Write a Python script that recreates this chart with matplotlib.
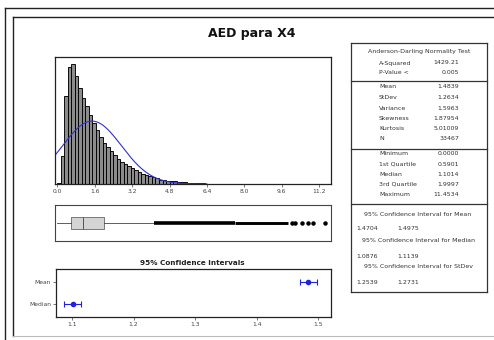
import numpy as np
import matplotlib
matplotlib.use('Agg')
import matplotlib.pyplot as plt
from matplotlib.lines import Line2D

# summary statistics (Minitab graphical summary)
n_obs = 33467
mean_val = 1.4839
stdev_val = 1.2634
q1, median_val, q3 = 0.5901, 1.1014, 1.9997
min_val, max_val = 0.0, 11.4534

# histogram: bins of width 0.15 starting at 0.0, counts
bin_width = 0.15
bin_counts = [25, 706, 2218, 2948, 3024, 2722, 2419, 2167, 1966, 1739, 1537, 1361,
              1184, 1033, 932, 832, 731, 630, 554, 504, 454, 403, 353, 302, 252,
              227, 202, 176, 139, 113, 101, 88, 76, 66, 58, 50, 43, 35, 28, 23,
              18, 13, 10, 8, 6, 5, 4, 3]
hist_ticks = [0.0, 1.6, 3.2, 4.8, 6.4, 8.0, 9.6, 11.2]

# boxplot outliers
whisker_hi = 4.12
dense_outliers = [(4.14, 7.6), (7.6, 9.85)]
sparse_outliers = [10.03, 10.17, 10.49, 10.72, 10.95, 11.45]

# confidence intervals
ci_labels = ['Median', 'Mean']
ci_centers = [1.1014, 1.4839]
ci_low = [1.0876, 1.4704]
ci_high = [1.1139, 1.4975]
ci_ticks = [1.1, 1.2, 1.3, 1.4, 1.5]

W, H = 494, 340
fig = plt.figure(figsize=(W / 100, H / 100), dpi=100)
fig.patch.set_facecolor('white')


def px_axes(l, t, r, b):
    return fig.add_axes([l / W, 1 - b / H, (r - l) / W, (b - t) / H])


def fx(x):
    return x / W


def fy(y):
    return 1 - y / H


# outer frames
fig.add_artist(Line2D([fx(5), fx(5)], [fy(8), fy(345)], color='#222222', lw=1.0))
fig.add_artist(Line2D([fx(5), fx(500)], [fy(8), fy(8)], color='#222222', lw=1.0))
fig.add_artist(Line2D([fx(13), fx(13)], [fy(17), fy(336)], color='#222222', lw=1.0))
fig.add_artist(Line2D([fx(13), fx(500)], [fy(17), fy(17)], color='#222222', lw=1.0))
fig.add_artist(Line2D([fx(13), fx(500)], [fy(336), fy(336)], color='#bbbbbb', lw=0.8))

fig.text(fx(252), fy(33), 'AED para X4', fontsize=9, fontweight='bold',
         ha='center', va='center', color='#111111')

xlim_hist = (-0.1, 11.71)
tick_kw = dict(labelsize=4.3, length=2, width=0.5, colors='#444444', pad=1.5)

# histogram
ax = px_axes(55, 57, 331, 184)
lefts = np.arange(len(bin_counts)) * bin_width
ax.bar(lefts, bin_counts, width=bin_width, align='edge', color='#8c8c8c',
       edgecolor='black', linewidth=0.65)
xs = np.linspace(xlim_hist[0], 6.4, 300)
pdf = np.exp(-0.5 * ((xs - mean_val) / stdev_val) ** 2) / (stdev_val * np.sqrt(2 * np.pi))
ax.plot(xs, pdf * n_obs * bin_width, color='#3030d0', lw=0.8)
ax.set_xlim(*xlim_hist)
ax.set_ylim(0, 3200)
ax.set_yticks([])
ax.set_xticks(hist_ticks)
ax.set_xticklabels(['%.1f' % t for t in hist_ticks])
ax.tick_params(axis='x', **tick_kw)
for s in ax.spines.values():
    s.set_linewidth(0.9)
    s.set_color('#222222')

# boxplot
axb = px_axes(55, 205, 331, 241)
stats = [dict(med=median_val, q1=q1, q3=q3, whislo=min_val, whishi=whisker_hi,
              fliers=sparse_outliers)]
axb.bxp(stats, positions=[1], widths=0.33, orientation='horizontal', patch_artist=True,
        boxprops=dict(facecolor='#d4d4d4', edgecolor='#666666', linewidth=0.6),
        medianprops=dict(color='#555555', linewidth=0.7),
        whiskerprops=dict(color='#444444', linewidth=0.6),
        capprops=dict(linewidth=0),
        flierprops=dict(marker='o', markersize=2.2, markerfacecolor='black',
                        markeredgecolor='black'))
axb.hlines(1, dense_outliers[0][0], dense_outliers[0][1], color='black', lw=2.6)
axb.hlines(1, dense_outliers[1][0], dense_outliers[1][1], color='black', lw=2.1)
axb.set_xlim(*xlim_hist)
axb.set_ylim(0.5, 1.5)
axb.set_xticks([])
axb.set_yticks([])
for s in axb.spines.values():
    s.set_linewidth(0.8)
    s.set_color('#444444')

# confidence intervals
fig.text(fx(192), fy(263), '95% Confidence Intervals', fontsize=5.2, fontweight='bold',
         ha='center', va='center', color='#222222')
axc = px_axes(56, 269, 331, 317)
for i in range(len(ci_labels)):
    axc.errorbar(ci_centers[i], i,
                 xerr=[[ci_centers[i] - ci_low[i]], [ci_high[i] - ci_centers[i]]],
                 fmt='o', color='#2020e0', ms=3, capsize=2.2, elinewidth=0.8,
                 capthick=0.8)
axc.set_xlim(1.074, 1.521)
axc.set_ylim(-0.6, 1.6)
axc.set_yticks(range(len(ci_labels)))
axc.set_yticklabels(ci_labels)
axc.set_xticks(ci_ticks)
axc.set_xticklabels(['%.1f' % t for t in ci_ticks])
axc.tick_params(axis='both', **tick_kw)
for s in axc.spines.values():
    s.set_linewidth(0.9)
    s.set_color('#222222')

# statistics table
tab_l, tab_r = 351, 487
table_lines = [43, 81, 149, 204, 292]
for y in table_lines:
    fig.add_artist(Line2D([fx(tab_l), fx(tab_r)], [fy(y), fy(y)], color='#333333', lw=0.9))
fig.add_artist(Line2D([fx(tab_l), fx(tab_l)], [fy(43), fy(292)], color='#333333', lw=0.9))
fig.add_artist(Line2D([fx(tab_r), fx(tab_r)], [fy(43), fy(292)], color='#333333', lw=0.9))

fs = 4.5
tc = '#333333'
fig.text(fx(419), fy(51), 'Anderson-Darling Normality Test', fontsize=fs, ha='center',
         va='center', color=tc)

rows = [('A-Squared', '1429.21', 63), ('P-Value <', '0.005', 73),
        ('Mean', '1.4839', 87), ('StDev', '1.2634', 97.5), ('Variance', '1.5963', 108),
        ('Skewness', '1.87954', 118.5), ('Kurtosis', '5.01009', 129), ('N', '33467', 139),
        ('Minimum', '0.0000', 154), ('1st Quartile', '0.5901', 164),
        ('Median', '1.1014', 174), ('3rd Quartile', '1.9997', 184),
        ('Maximum', '11.4534', 194)]
for name, val, y in rows:
    fig.text(fx(379), fy(y), name, fontsize=fs, ha='left', va='center', color=tc)
    fig.text(fx(459), fy(y), val, fontsize=fs, ha='right', va='center', color=tc)

ci_rows = [('95% Confidence Interval for Mean', '1.4704', '1.4975', 214, 229),
           ('95% Confidence Interval for Median', '1.0876', '1.1139', 240, 256),
           ('95% Confidence Interval for StDev', '1.2539', '1.2731', 267, 282)]
for title, lo, hi, yt, yv in ci_rows:
    fig.text(fx(418), fy(yt), title, fontsize=fs, ha='center', va='center', color=tc)
    fig.text(fx(367), fy(yv), lo, fontsize=fs, ha='center', va='center', color=tc)
    fig.text(fx(408), fy(yv), hi, fontsize=fs, ha='center', va='center', color=tc)

fig.savefig('out.png', dpi=100, facecolor='white')
